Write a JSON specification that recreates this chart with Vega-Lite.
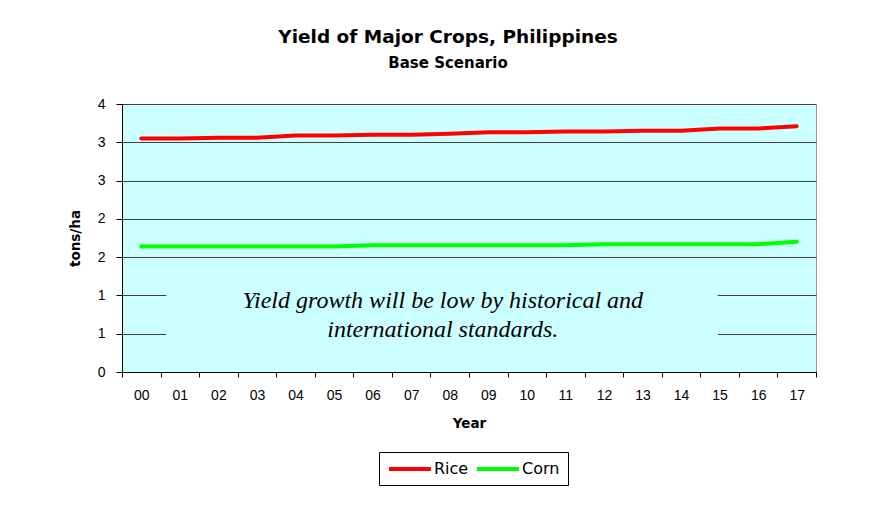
{
  "$schema": "https://vega.github.io/schema/vega-lite/v6.json",
  "width": 694,
  "height": 268,
  "autosize": {"type": "none"},
  "padding": {"left": 122, "top": 104, "right": 61, "bottom": 136},
  "background": "white",
  "title": {
    "text": "Yield of Major Crops, Philippines",
    "subtitle": "Base Scenario",
    "anchor": "middle",
    "dx": -21,
    "offset": 26,
    "font": "DejaVu Sans",
    "fontSize": 18.5,
    "fontWeight": "bold",
    "color": "#000000",
    "subtitleFont": "DejaVu Sans",
    "subtitleFontSize": 15,
    "subtitleFontWeight": "bold",
    "subtitleColor": "#000000",
    "subtitlePadding": 10
  },
  "data": {
    "values": [
      {"year": "00", "crop": "Rice", "yield": 3.05},
      {"year": "01", "crop": "Rice", "yield": 3.05},
      {"year": "02", "crop": "Rice", "yield": 3.06},
      {"year": "03", "crop": "Rice", "yield": 3.06},
      {"year": "04", "crop": "Rice", "yield": 3.09},
      {"year": "05", "crop": "Rice", "yield": 3.09},
      {"year": "06", "crop": "Rice", "yield": 3.10},
      {"year": "07", "crop": "Rice", "yield": 3.10},
      {"year": "08", "crop": "Rice", "yield": 3.11},
      {"year": "09", "crop": "Rice", "yield": 3.13},
      {"year": "10", "crop": "Rice", "yield": 3.13},
      {"year": "11", "crop": "Rice", "yield": 3.14},
      {"year": "12", "crop": "Rice", "yield": 3.14},
      {"year": "13", "crop": "Rice", "yield": 3.15},
      {"year": "14", "crop": "Rice", "yield": 3.15},
      {"year": "15", "crop": "Rice", "yield": 3.18},
      {"year": "16", "crop": "Rice", "yield": 3.18},
      {"year": "17", "crop": "Rice", "yield": 3.21},
      {"year": "00", "crop": "Corn", "yield": 1.64},
      {"year": "01", "crop": "Corn", "yield": 1.64},
      {"year": "02", "crop": "Corn", "yield": 1.64},
      {"year": "03", "crop": "Corn", "yield": 1.64},
      {"year": "04", "crop": "Corn", "yield": 1.64},
      {"year": "05", "crop": "Corn", "yield": 1.64},
      {"year": "06", "crop": "Corn", "yield": 1.655},
      {"year": "07", "crop": "Corn", "yield": 1.655},
      {"year": "08", "crop": "Corn", "yield": 1.655},
      {"year": "09", "crop": "Corn", "yield": 1.655},
      {"year": "10", "crop": "Corn", "yield": 1.655},
      {"year": "11", "crop": "Corn", "yield": 1.655},
      {"year": "12", "crop": "Corn", "yield": 1.67},
      {"year": "13", "crop": "Corn", "yield": 1.67},
      {"year": "14", "crop": "Corn", "yield": 1.67},
      {"year": "15", "crop": "Corn", "yield": 1.67},
      {"year": "16", "crop": "Corn", "yield": 1.67},
      {"year": "17", "crop": "Corn", "yield": 1.70}
    ]
  },
  "layer": [
    {
      "mark": {"type": "line", "strokeWidth": 4, "strokeCap": "round", "strokeJoin": "round"},
      "encoding": {
        "x": {
          "field": "year",
          "type": "ordinal",
          "bandPosition": 0.5,
          "scale": {"type": "band", "paddingInner": 0, "paddingOuter": 0},
          "axis": {
            "title": "Year",
            "tickBand": "extent",
            "labelAngle": 0,
            "labelFont": "Liberation Sans",
            "labelFontSize": 14,
            "labelColor": "#000000",
            "labelPadding": 11,
            "titleFont": "DejaVu Sans",
            "titleFontSize": 13.5,
            "titleFontWeight": "bold",
            "titleColor": "#000000",
            "titlePadding": 14,
            "domainColor": "#000000",
            "tickColor": "#000000",
            "tickSize": 5,
            "grid": false
          }
        },
        "y": {
          "field": "yield",
          "type": "quantitative",
          "scale": {"domain": [0, 3.5], "nice": false, "zero": true},
          "axis": {
            "title": "tons/ha",
            "values": [0, 0.5, 1, 1.5, 2, 2.5, 3, 3.5],
            "tickCount": 8,
            "labelExpr": "round(datum.value)",
            "labelFont": "Liberation Sans",
            "labelFontSize": 14,
            "labelColor": "#000000",
            "labelPadding": 11,
            "labelOverlap": false,
            "labelBound": false,
            "titleFont": "DejaVu Sans",
            "titleFontSize": 13.5,
            "titleFontWeight": "bold",
            "titleColor": "#000000",
            "titlePadding": 15,
            "domainColor": "#000000",
            "tickColor": "#000000",
            "tickSize": 6,
            "grid": true,
            "gridColor": "#404040",
            "gridOpacity": 1,
            "gridWidth": 1
          }
        },
        "color": {
          "field": "crop",
          "type": "nominal",
          "scale": {"domain": ["Rice", "Corn"], "range": ["#FF0000", "#00FF00"]},
          "legend": {
            "title": null,
            "orient": "none",
            "legendX": 257,
            "legendY": 348,
            "direction": "horizontal",
            "symbolType": "M-3,0H3",
            "symbolSize": 196,
            "symbolStrokeWidth": 4,
            "symbolOffset": 14,
            "labelFont": "DejaVu Sans",
            "labelFontSize": 16,
            "labelColor": "#000000",
            "labelOffset": 15,
            "columnPadding": 0,
            "strokeColor": "#000000",
            "fillColor": "#FFFFFF",
            "padding": 8
          }
        }
      }
    },
    {
      "data": {"values": [{}]},
      "mark": {"type": "rect", "fill": "#CCFFFF", "stroke": null},
      "encoding": {
        "x": {"datum": "01", "type": "ordinal", "bandPosition": 0.15},
        "x2": {"datum": "15", "bandPosition": 0.45},
        "y": {"datum": 0.3, "type": "quantitative"},
        "y2": {"datum": 1.25}
      }
    },
    {
      "data": {"values": [{}]},
      "mark": {
        "type": "text",
        "text": ["Yield growth will be low by historical and", "international standards."],
        "font": "Liberation Serif",
        "fontStyle": "italic",
        "fontSize": 24,
        "lineHeight": 29,
        "align": "center",
        "baseline": "middle",
        "fill": "#000000"
      },
      "encoding": {
        "x": {"datum": "08", "type": "ordinal", "bandPosition": 0.32},
        "y": {"datum": 0.93, "type": "quantitative"}
      }
    }
  ],
  "config": {
    "view": {"fill": "#CCFFFF", "stroke": "#999999", "strokeWidth": 1}
  }
}
